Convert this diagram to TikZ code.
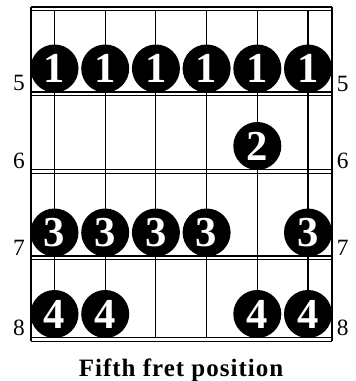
\documentclass[tikz,border=0pt]{standalone}
\usepackage{fontspec}
\setmainfont{Liberation Serif}
\newfontfamily\titlefont[LetterSpace=4]{Liberation Serif Bold}
\begin{document}
\begin{tikzpicture}[x=0.75pt,y=-0.75pt,
  gridline/.style={line width=0.8pt,black},
  fing/.style={circle,fill=black,inner sep=0pt,minimum size=36pt,text=white,
    font=\fontsize{32}{32}\selectfont\bfseries},
  fretlbl/.style={font=\fontsize{17.5}{17.5}\selectfont,inner sep=0pt},
  titlelbl/.style={font=\titlefont\fontsize{18.75}{18.75}\selectfont,inner sep=0pt}]
\useasboundingbox (0,0) rectangle (355,381);
% frame
\draw[gridline] (31,7) -- (31,341);
\draw[gridline] (332,7) -- (332,341);
% frets (double lines)
\foreach \y in {7,92,169.5,256,337.5}{
  \draw[gridline] (31,\y) -- (332,\y);
  \draw[gridline] (31,\y+3.8) -- (332,\y+3.8);
}
% strings
\foreach \x in {54.5,105.2,155.9,206.6,257.3,308}{
  \draw[gridline] (\x,10.8) -- (\x,337.5);
}
% fret 5
\node[fing] (a1) at (54.5,68.5) {1};
\node[fing] (a2) at (105.2,68.5) {1};
\node[fing] (a3) at (155.9,68.5) {1};
\node[fing] (a4) at (206.6,68.5) {1};
\node[fing] (a5) at (257.3,68.5) {1};
\node[fing] (a6) at (308,68.5) {1};
% fret 6
\node[fing] (b5) at (257.3,146) {2};
% fret 7
\node[fing] (c1) at (54.5,232.5) {3};
\node[fing] (c2) at (105.2,232.5) {3};
\node[fing] (c3) at (155.9,232.5) {3};
\node[fing] (c4) at (206.6,232.5) {3};
\node[fing] (c6) at (308,232.5) {3};
% fret 8
\node[fing] (d1) at (54.5,314) {4};
\node[fing] (d2) at (105.2,314) {4};
\node[fing] (d5) at (257.3,314) {4};
\node[fing] (d6) at (308,314) {4};
% fret labels
\node[fretlbl,anchor=base east] (l5) at (25,90.5) {5};
\node[fretlbl,anchor=base east] (l6) at (25,168) {6};
\node[fretlbl,anchor=base east] (l7) at (25,255) {7};
\node[fretlbl,anchor=base east] (l8) at (25,335) {8};
\node[fretlbl,anchor=base west] (r5) at (336.5,92) {5};
\node[fretlbl,anchor=base west] (r6) at (336.5,168) {6};
\node[fretlbl,anchor=base west] (r7) at (336.5,255) {7};
\node[fretlbl,anchor=base west] (r8) at (336.5,335) {8};
% title
\node[titlelbl,anchor=base] (title) at (181,376) {Fifth fret position};
\end{tikzpicture}
\end{document}
